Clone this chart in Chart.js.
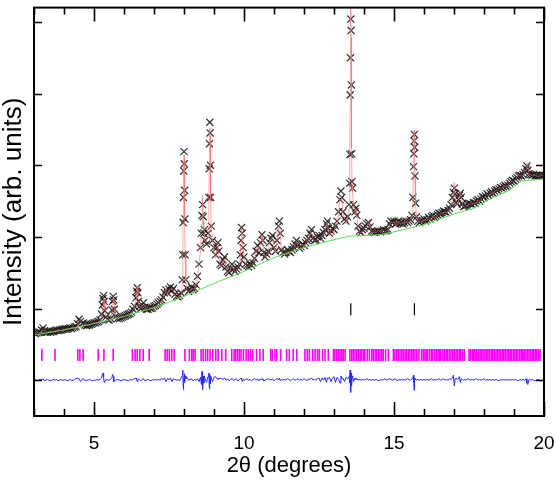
<!DOCTYPE html>
<html><head><meta charset="utf-8">
<script src="https://cdn.jsdelivr.net/npm/chart.js@4.4.1/dist/chart.umd.min.js"></script>
<style>html,body{margin:0;padding:0;background:#fff}#wrap{width:555px;height:486px}</style>
</head><body><div id="wrap"><canvas id="c" width="555" height="486"></canvas></div>
<script>
// 2theta positions (degrees)
const twoTheta = [
3.00,3.05,3.10,3.15,3.20,3.25,3.30,3.35,3.40,3.45,
3.50,3.55,3.60,3.65,3.70,3.75,3.80,3.85,3.90,3.95,
4.00,4.05,4.10,4.15,4.20,4.25,4.30,4.35,4.40,4.45,
4.50,4.55,4.60,4.65,4.70,4.75,4.80,4.85,4.90,4.95,
5.00,5.05,5.10,5.15,5.20,5.25,5.28,5.30,5.32,5.34,
5.36,5.40,5.45,5.50,5.55,5.60,5.62,5.64,5.66,5.68,
5.72,5.78,5.85,5.90,5.95,6.00,6.05,6.10,6.15,6.20,
6.25,6.30,6.35,6.40,6.42,6.44,6.46,6.48,6.52,6.56,
6.60,6.65,6.70,6.75,6.80,6.85,6.90,6.95,7.00,7.05,
7.10,7.15,7.20,7.25,7.30,7.35,7.40,7.45,7.50,7.55,
7.60,7.65,7.70,7.75,7.80,7.85,7.90,7.94,7.96,7.97,
7.98,7.99,8.00,8.01,8.02,8.03,8.04,8.06,8.10,8.15,
8.20,8.25,8.30,8.35,8.40,8.45,8.50,8.55,8.58,8.60,
8.62,8.64,8.66,8.68,8.70,8.75,8.80,8.83,8.84,8.85,
8.86,8.87,8.88,8.89,8.91,8.95,9.00,9.05,9.10,9.13,
9.16,9.20,9.25,9.30,9.35,9.40,9.45,9.50,9.55,9.60,
9.65,9.70,9.75,9.80,9.85,9.88,9.90,9.92,9.94,9.97,
10.00,10.05,10.10,10.15,10.20,10.25,10.30,10.35,10.40,10.45,
10.50,10.55,10.60,10.63,10.66,10.70,10.75,10.80,10.85,10.90,
10.95,11.00,11.05,11.10,11.15,11.18,11.21,11.25,11.30,11.35,
11.40,11.45,11.50,11.55,11.60,11.65,11.70,11.75,11.80,11.85,
11.90,11.95,12.00,12.05,12.10,12.15,12.20,12.25,12.30,12.35,
12.40,12.45,12.50,12.55,12.60,12.65,12.70,12.75,12.78,12.81,
12.85,12.90,12.95,13.00,13.05,13.10,13.15,13.20,13.23,13.26,
13.30,13.35,13.40,13.45,13.50,13.52,13.53,13.54,13.55,13.56,
13.57,13.58,13.59,13.60,13.62,13.65,13.70,13.73,13.76,13.80,
13.85,13.90,13.95,14.00,14.05,14.10,14.15,14.20,14.25,14.30,
14.35,14.40,14.45,14.50,14.55,14.60,14.65,14.70,14.75,14.80,
14.85,14.90,14.95,15.00,15.05,15.10,15.15,15.20,15.25,15.30,
15.35,15.40,15.45,15.50,15.55,15.60,15.63,15.65,15.66,15.67,
15.68,15.69,15.70,15.72,15.75,15.80,15.85,15.90,15.95,16.00,
16.05,16.10,16.15,16.20,16.25,16.30,16.35,16.40,16.45,16.50,
16.55,16.60,16.65,16.70,16.75,16.80,16.85,16.90,16.95,16.98,
17.01,17.04,17.07,17.10,17.15,17.18,17.21,17.24,17.28,17.32,
17.36,17.40,17.45,17.50,17.55,17.60,17.65,17.70,17.75,17.80,
17.85,17.90,17.95,18.00,18.05,18.10,18.15,18.20,18.25,18.30,
18.35,18.40,18.45,18.50,18.55,18.60,18.65,18.70,18.75,18.80,
18.85,18.90,18.95,19.00,19.05,19.10,19.15,19.20,19.25,19.30,
19.35,19.40,19.43,19.46,19.50,19.55,19.60,19.65,19.70,19.75,
19.80,19.85,19.90,19.95,20.00
];
// observed intensity (arb. units)
const yObs = [
0.66,0.65,0.66,0.67,0.67,0.70,0.73,0.69,0.67,0.67,
0.68,0.67,0.68,0.68,0.69,0.70,0.69,0.70,0.70,0.71,
0.71,0.72,0.71,0.72,0.73,0.72,0.73,0.74,0.75,0.79,
0.85,0.82,0.79,0.80,0.77,0.76,0.77,0.77,0.78,0.79,
0.80,0.80,0.81,0.82,0.84,0.92,1.05,1.14,1.18,1.10,
0.97,0.88,0.85,0.84,0.86,0.98,1.10,1.17,1.12,0.99,
0.89,0.86,0.86,0.87,0.88,0.89,0.90,0.91,0.92,0.93,
0.95,0.99,1.03,1.15,1.24,1.29,1.22,1.10,1.03,1.00,
1.02,1.08,1.02,0.99,0.99,1.01,1.00,1.01,1.03,1.04,
1.06,1.08,1.10,1.12,1.16,1.22,1.26,1.22,1.27,1.30,
1.25,1.28,1.20,1.17,1.16,1.18,1.22,1.40,1.75,2.20,
2.55,2.92,3.19,3.02,2.65,2.25,1.75,1.40,1.28,1.24,
1.26,1.30,1.26,1.28,1.33,1.45,1.62,1.85,2.05,2.30,
2.45,2.28,2.05,2.10,1.95,1.90,2.05,2.55,2.95,3.30,
3.60,3.45,3.00,2.55,2.15,1.95,1.85,1.75,1.85,1.92,
1.80,1.62,1.60,1.68,1.72,1.58,1.52,1.50,1.56,1.62,
1.55,1.52,1.55,1.58,1.62,1.75,1.95,2.13,2.05,1.85,
1.72,1.62,1.60,1.58,1.62,1.60,1.64,1.70,1.80,1.88,
1.78,1.92,2.03,1.95,1.78,1.72,1.76,1.80,1.92,1.98,
2.02,1.85,1.80,1.95,2.15,2.22,2.05,1.82,1.78,1.76,
1.78,1.82,1.80,1.78,1.82,1.86,1.90,1.95,1.88,1.84,
1.86,1.90,1.88,1.92,1.95,1.98,2.05,2.10,1.98,1.95,
1.96,2.00,2.02,1.98,2.02,2.06,2.10,2.18,2.22,2.12,
2.05,2.08,2.12,2.10,2.15,2.22,2.35,2.52,2.64,2.55,
2.35,2.25,2.22,2.28,2.45,2.75,3.15,3.98,4.50,5.04,
4.88,4.12,3.16,2.77,2.68,2.45,2.35,2.40,2.30,2.15,
2.08,2.06,2.10,2.12,2.15,2.18,2.20,2.14,2.08,2.07,
2.06,2.07,2.08,2.08,2.07,2.08,2.10,2.08,2.09,2.10,
2.18,2.22,2.20,2.22,2.18,2.20,2.22,2.19,2.20,2.18,
2.20,2.22,2.20,2.22,2.24,2.30,2.55,2.98,3.16,3.34,
3.43,3.25,2.85,2.47,2.28,2.22,2.20,2.22,2.23,2.25,
2.22,2.24,2.27,2.25,2.28,2.30,2.27,2.29,2.31,2.33,
2.32,2.34,2.36,2.35,2.34,2.37,2.40,2.45,2.55,2.62,
2.68,2.60,2.48,2.46,2.52,2.58,2.61,2.55,2.46,2.42,
2.43,2.44,2.46,2.47,2.46,2.45,2.48,2.47,2.50,2.52,
2.50,2.53,2.56,2.55,2.57,2.60,2.58,2.61,2.63,2.61,
2.64,2.66,2.65,2.67,2.69,2.68,2.70,2.72,2.70,2.72,
2.75,2.77,2.79,2.78,2.81,2.83,2.85,2.86,2.85,2.87,
2.90,2.95,2.99,2.93,2.88,2.87,2.86,2.87,2.85,2.86,
2.85,2.86,2.85,2.86,2.86
];
// difference (observed - calculated)
const yDiff = [
0.00,0.01,-0.01,0.00,0.01,0.01,0.02,-0.01,0.00,0.01,
0.00,-0.01,0.00,0.01,0.00,0.01,-0.01,0.00,0.01,0.00,
0.00,0.01,-0.01,0.00,0.01,-0.01,0.00,0.01,0.02,0.03,
0.02,-0.02,0.01,0.02,-0.01,0.00,0.00,0.01,0.00,-0.01,
0.00,0.00,0.01,0.00,0.01,0.03,0.08,0.10,0.04,-0.03,
-0.02,0.01,0.00,0.00,0.01,0.04,0.08,0.05,-0.02,-0.01,
0.00,0.01,0.00,-0.01,0.00,0.01,0.00,0.00,-0.01,0.01,
0.00,0.01,0.02,0.03,0.02,-0.02,0.01,0.02,0.00,-0.01,
0.01,0.02,-0.01,0.00,0.01,0.00,-0.01,0.01,0.00,0.01,
0.00,0.01,0.00,0.02,0.01,0.03,-0.02,0.02,0.01,0.03,
-0.02,0.02,0.01,0.00,0.01,-0.01,0.03,0.06,0.14,-0.05,
-0.13,-0.06,0.05,0.09,0.04,-0.03,0.06,0.02,0.04,0.00,
0.01,0.02,-0.01,0.01,0.00,0.02,-0.02,0.04,-0.06,0.12,
-0.13,0.05,-0.04,0.06,0.02,-0.03,0.05,0.10,-0.08,-0.12,
0.08,0.04,-0.05,0.06,0.03,-0.02,0.04,0.05,0.02,0.03,
0.01,0.03,0.02,0.01,0.03,0.00,0.02,-0.01,0.01,0.02,
0.00,0.01,0.02,-0.01,0.01,0.02,0.03,0.01,-0.02,0.01,
0.00,0.01,0.02,0.00,0.01,-0.01,0.01,0.02,0.00,0.02,
-0.01,0.02,0.01,0.02,-0.01,0.00,0.01,0.02,0.01,0.00,
0.02,-0.01,0.01,0.02,0.01,0.03,-0.01,0.01,0.00,0.01,
0.00,0.02,0.01,-0.01,0.01,0.02,0.00,0.01,0.02,0.00,
0.01,0.00,0.02,0.01,-0.01,0.02,0.01,0.03,0.00,0.01,
0.00,0.02,0.03,-0.02,0.03,0.00,0.04,-0.03,0.03,0.02,
0.04,-0.02,0.03,0.05,-0.03,0.04,0.02,-0.04,0.06,0.02,
0.03,-0.02,0.04,0.02,0.05,-0.04,0.08,0.14,-0.06,-0.17,
0.10,0.05,-0.08,0.04,0.06,-0.02,0.03,0.01,0.02,0.00,
0.01,0.00,0.01,0.00,0.01,0.02,0.00,0.01,0.00,0.01,
0.00,0.01,0.00,-0.01,0.01,0.00,0.01,0.02,0.00,0.01,
0.02,0.01,0.00,0.01,0.02,-0.01,0.01,0.00,0.01,0.00,
0.01,0.00,0.02,0.01,0.00,0.02,0.04,0.07,-0.03,-0.14,
-0.06,0.03,0.02,0.01,0.00,0.01,0.00,0.01,0.00,0.01,
0.00,0.01,0.00,0.01,0.02,0.00,0.01,0.00,0.01,0.02,
0.00,0.01,0.02,0.00,0.01,0.00,0.02,0.01,0.03,0.07,
-0.08,0.02,0.03,0.01,0.02,0.05,-0.03,0.02,0.01,0.00,
0.01,0.00,0.02,0.01,0.00,0.01,0.00,0.01,0.02,0.00,
0.01,0.00,0.01,0.02,0.00,0.01,0.00,0.01,0.00,0.01,
0.00,0.01,0.00,-0.01,0.01,0.00,0.01,0.00,0.01,0.00,
0.01,0.00,0.01,0.00,0.01,0.00,-0.01,0.01,0.00,0.01,
0.00,0.02,-0.04,-0.06,0.01,0.00,0.01,0.00,-0.01,0.00,
0.01,0.00,-0.01,0.00,0.00
];
// background curve
const bgTheta = [3.0,4.0,5.0,6.0,7.0,8.0,9.0,10.0,11.0,12.0,13.0,13.5,14.5,15.0,16.0,17.0,17.6,18.2,18.8,19.25,20.0];
const bgY     = [0.63,0.70,0.79,0.89,1.01,1.17,1.35,1.52,1.71,1.85,1.96,2.01,2.03,2.07,2.17,2.32,2.39,2.53,2.64,2.78,2.81];
// Bragg reflection positions, phase 1 (magenta) and phase 2 (black)
const reflections = [
3.26,3.70,4.46,4.53,4.64,5.14,5.33,5.64,6.28,6.37,6.44,6.53,6.64,6.84,7.37,7.44,7.51,7.59,7.67,
8.03,8.18,8.26,8.31,8.37,8.57,8.64,8.72,8.79,8.87,8.96,9.06,9.14,9.26,9.39,9.59,9.67,9.72,9.78,
9.84,9.90,9.98,10.07,10.14,10.22,10.29,10.42,10.53,10.64,10.89,10.94,11.03,11.09,11.22,11.42,
11.51,11.64,11.76,12.03,12.11,12.18,12.29,12.37,12.45,12.51,12.62,12.70,12.81,12.98,13.03,13.09,
13.14,13.20,13.26,13.31,13.37,13.53,13.59,13.64,13.70,13.76,13.81,13.87,13.92,13.98,14.03,14.11,
14.18,14.26,14.31,14.37,14.42,14.48,14.53,14.59,14.64,14.72,14.81,14.98,15.03,15.09,15.14,15.20,
15.26,15.31,15.37,15.42,15.48,15.53,15.59,15.64,15.70,15.76,15.83,15.92,15.98,16.03,16.08,16.12,
16.19,16.25,16.29,16.36,16.41,16.47,16.52,16.56,16.63,16.68,16.74,16.79,16.85,16.90,16.96,17.01,
17.07,17.12,17.18,17.22,17.28,17.34,17.50,17.55,17.61,17.66,17.70,17.76,17.82,17.87,17.92,17.97,
18.03,18.08,18.13,18.18,18.24,18.29,18.34,18.40,18.45,18.50,18.55,18.61,18.66,18.71,18.77,18.82,
18.87,18.92,18.98,19.03,19.08,19.13,19.19,19.24,19.29,19.34,19.40,19.45,19.50,19.55,19.61,19.66,
19.71,19.76,19.82,19.87
];
const reflections2 = [13.56, 15.68];
const reflRow1 = 0.35, reflRow2 = 0.99;
const xTickLabels = [5,10,15,20];
const xTicks = [3,4,5,6,7,8,9,10,11,12,13,14,15,16,17,18,19,20];
const yTicks = [0,1,2,3,4,5];

const FONT = '"Liberation Sans", Arial, sans-serif';
const obsPts  = twoTheta.map((t,i)=>({x:t, y:yObs[i]}));
const calcPts = twoTheta.map((t,i)=>({x:t, y:+(yObs[i]-yDiff[i]).toFixed(3)}));
const diffPts = twoTheta.map((t,i)=>({x:t, y:yDiff[i]}));
const bgPts   = bgTheta.map((t,i)=>({x:t, y:bgY[i]}));
const refPts  = reflections.map(t=>({x:t, y:reflRow1}));
const ref2Pts = reflections2.map(t=>({x:t, y:reflRow2}));

const frame = {
  id:'frame',
  afterDatasetsDraw(chart){
    const {ctx, chartArea:a, scales:{x,y}} = chart;
    ctx.save();
    ctx.strokeStyle='#000';
    ctx.lineWidth=2;
    ctx.strokeRect(a.left, a.top, a.right-a.left, a.bottom-a.top);
    ctx.lineWidth=1.6;
    ctx.beginPath();
    xTicks.forEach(v=>{
      const px = Math.round(x.getPixelForValue(v))+0.5;
      const L = xTickLabels.includes(v) ? 14 : 7;
      ctx.moveTo(px,a.bottom); ctx.lineTo(px,a.bottom-L);
      ctx.moveTo(px,a.top); ctx.lineTo(px,a.top+L);
    });
    yTicks.forEach(v=>{
      const py = Math.round(y.getPixelForValue(v))+0.5;
      ctx.moveTo(a.left,py); ctx.lineTo(a.left+8,py);
      ctx.moveTo(a.right,py); ctx.lineTo(a.right-8,py);
    });
    ctx.stroke();
    ctx.restore();
  }
};

new Chart(document.getElementById('c'), {
  type:'scatter',
  data:{datasets:[
    {label:'Calculated', data:calcPts, showLine:true, borderColor:'rgba(255,110,110,0.6)', borderWidth:1, pointRadius:0},
    {label:'Background', data:bgPts, showLine:true, borderColor:'rgb(90,220,90)', borderWidth:1, pointRadius:0},
    {label:'Observed', data:obsPts, showLine:false, pointStyle:'crossRot', pointRadius:5, borderColor:'rgba(25,25,25,0.9)', borderWidth:1.2, backgroundColor:'transparent'},
    {label:'Difference', data:diffPts, showLine:true, borderColor:'rgb(40,40,255)', borderWidth:1, pointRadius:0},
    {label:'Reflections phase 1', data:refPts, showLine:false, pointStyle:'line', rotation:90, pointRadius:6, borderColor:'#ff00ff', borderWidth:1.6},
    {label:'Reflections phase 2', data:ref2Pts, showLine:false, pointStyle:'line', rotation:90, pointRadius:6, borderColor:'#000', borderWidth:1.2}
  ]},
  options:{
    responsive:false, animation:false, devicePixelRatio:1,
    layout:{padding:{left:1, right:11, top:1, bottom:7}},
    plugins:{legend:{display:false}, tooltip:{enabled:false}},
    elements:{line:{tension:0}},
    scales:{
      x:{type:'linear', min:3, max:20,
        grid:{display:false, drawTicks:false}, border:{display:false},
        afterBuildTicks:s=>{ s.ticks = xTickLabels.map(v=>({value:v})); },
        afterFit:s=>{ s.height = 63; s.paddingLeft = 0; s.paddingRight = 0; },
        ticks:{color:'#000', font:{family:FONT, size:19}, padding:16, maxRotation:0, autoSkip:false},
        title:{display:true, text:'2θ (degrees)', color:'#000', font:{family:FONT, size:22}, padding:0}
      },
      y:{type:'linear', min:-0.5, max:5.2,
        grid:{display:false, drawTicks:false}, border:{display:false},
        ticks:{display:false},
        afterFit:s=>{ s.width = 33; s.paddingTop = 0; s.paddingBottom = 0; },
        title:{display:true, text:'Intensity (arb. units)', color:'#000', font:{family:FONT, size:26, lineHeight:1.0}, padding:0}
      }
    }
  },
  plugins:[frame]
});
</script></body></html>
